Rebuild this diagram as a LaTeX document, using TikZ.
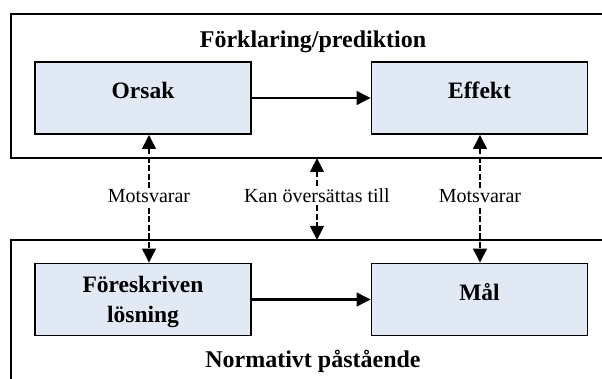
\documentclass[tikz,border=0pt]{standalone}
\usepackage{fontspec}
\setmainfont{Liberation Serif}
\usetikzlibrary{arrows.meta,calc}
\definecolor{boxfill}{RGB}{224,233,244}
\begin{document}
\begin{tikzpicture}[x=1pt,y=-1pt,
  frame/.style={draw, line width=1.7pt, minimum width=640pt, anchor=north west, inner sep=0pt, outer sep=0pt},
  box/.style={draw, fill=boxfill, line width=1.7pt, text width=216pt, align=center, inner sep=0pt,
    font=\bfseries\fontsize{23.5}{30}\selectfont},
  one/.style={text height=37pt, text depth=35pt},
  two/.style={text height=28.5pt, text depth=43.5pt},
  conn/.style={line width=2.5pt, -{Triangle[width=13.5pt,length=14pt]}},
  corr/.style={line width=2.5pt, {Triangle[width=13.5pt,length=14pt]}-{Triangle[width=13.5pt,length=14pt]}, dash pattern=on 6pt off 2.5pt},
  lab/.style={fill=white, inner sep=2pt, font=\fontsize{20}{24}\selectfont, anchor=base},
  heading/.style={font=\bfseries\fontsize{24}{28}\selectfont, anchor=base}]
\useasboundingbox (0,0) rectangle (602,379);
\clip (0,0) rectangle (602,379);
\fill[white] (0,0) rectangle (602,379);
\node[frame, minimum height=144pt] (topframe) at (11,14) {};
\node[frame, minimum height=200pt] (botframe) at (11,240) {};
\node[heading] (t1) at (313,48) {Förklaring/prediktion};
\node[heading] (t2) at (313,367) {Normativt påstående};
\node[box, one] (orsak) at (143,98) {Orsak};
\node[box, one] (effekt) at (479.5,98) {Effekt};
\node[box, two] (fore) at (143,299.5) {Föreskriven\\lösning};
\node[box, one] (mal) at (479.5,299.5) {Mål};
\coordinate (c1) at (149,203);
\coordinate (c2) at (317,203);
\coordinate (c3) at (480,203);
\draw[conn] (orsak) -- (effekt);
\draw[conn] (fore) -- (mal);
\draw[corr] (c1 |- orsak.south) -- (c1 |- fore.north);
\draw[corr] (c2 |- topframe.south) -- (c2 |- botframe.north);
\draw[corr] (c3 |- effekt.south) -- (c3 |- mal.north);
\node[lab] (m1) at (c1) {Motsvarar};
\node[lab] (k) at (c2) {Kan översättas till};
\node[lab] (m2) at (c3) {Motsvarar};
\end{tikzpicture}
\end{document}
